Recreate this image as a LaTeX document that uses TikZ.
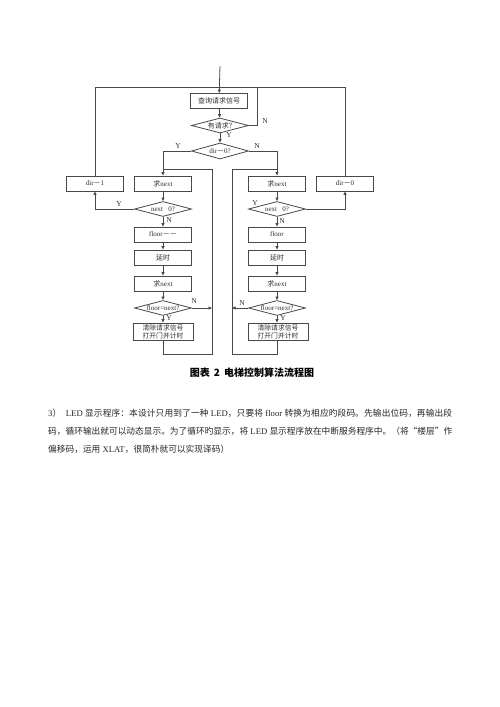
\documentclass[tikz,border=0pt]{standalone}
\usepackage{fontspec}
\setmainfont{Liberation Serif}
\newfontfamily\cjk{Noto Sans CJK SC}
\usetikzlibrary{shapes.geometric,arrows.meta}
\definecolor{lc}{HTML}{484848}
\definecolor{tc}{HTML}{303030}
\XeTeXlinebreaklocale "zh"
\XeTeXlinebreakskip=0pt plus 1pt minus 0.2pt
\begin{document}
\begin{tikzpicture}[x=1bp,y=-1bp,
  every node/.style={text=tc},
  fbox/.style={draw=lc, line width=0.8bp, minimum width=57bp, minimum height=15bp, inner sep=0pt, font=\fontsize{7bp}{8bp}\selectfont, align=center},
  fdia/.style={draw=lc, line width=0.8bp, diamond, aspect=3.8, minimum width=57bp, minimum height=15bp, inner sep=0pt, font=\fontsize{7bp}{8bp}\selectfont},
  lab/.style={font=\fontsize{7.5bp}{8bp}\selectfont, inner sep=0pt},
  ln/.style={draw=lc, line width=0.8bp},
  arr/.style={ln, -{Triangle[length=3.5bp,width=3bp]}}]
\useasboundingbox[fill=white] (0,0) rectangle (500,707);

% top part
\coordinate (in) at (220,66);
\node[fbox] (top) at (219,101) {\cjk 查询请求信号};
\node[fdia] (q1) at (220,125.5) {\cjk 有请求?};
\node[fdia, minimum height=16bp] (q2) at (220,151) {dir{\cjk －}0?};

% left column
\node[fbox] (L1) at (163,183.5) {{\cjk 求}next};
\node[fdia] (L2) at (163,209) {next\ \ \ 0?};
\node[fbox] (L3) at (163,234.5) {floor{\cjk －－}};
\node[fbox] (L4) at (163,257.5) {\cjk 延时};
\node[fbox] (L5) at (163,283.5) {{\cjk 求}next};
\node[fdia] (L6) at (163,308) {floor=next?};
\node[fbox, minimum height=17bp, minimum width=60bp, font=\fontsize{6.8bp}{8bp}\selectfont] (L7) at (163,331.5) {\cjk 清除请求信号\\\cjk 打开门并计时};
\node[fbox] (d1) at (95,183.5) {dir{\cjk －}1};

% right column
\node[fbox] (R1) at (277,183.5) {{\cjk 求}next};
\node[fdia] (R2) at (277,209) {next\ \ \ 0?};
\node[fbox] (R3) at (277,234.5) {floor};
\node[fbox] (R4) at (277,257.5) {\cjk 延时};
\node[fbox] (R5) at (277,283.5) {{\cjk 求}next};
\node[fdia] (R6) at (277,308) {floor=next?};
\node[fbox, minimum height=17bp, minimum width=60bp, font=\fontsize{6.8bp}{8bp}\selectfont] (R7) at (278,331.5) {\cjk 清除请求信号\\\cjk 打开门并计时};
\node[fbox] (d0) at (345,183.5) {dir{\cjk －}0};

% loop coordinates
\coordinate (tl) at (95,87);
\coordinate (tr) at (345,87);
\coordinate (nl) at (257,87);
\coordinate (lb) at (163,354);
\coordinate (lbr) at (212,354);
\coordinate (ltr) at (212,169);
\coordinate (ltl) at (163,169);
\coordinate (rb) at (277,354);
\coordinate (rbl) at (232,354);
\coordinate (rtl) at (232,169);
\coordinate (rtr) at (277,169);

% connectors
\draw[arr] (in) -- (top);
\draw[arr] (top) -- (q1);
\draw[arr] (q1) -- (q2);
\draw[ln] (q1.east) -| (nl);
\draw[ln] (d1.north) -- (tl) -- (tr) -- (d0.north);
\draw[arr] (q2.west) -| (L1.north);
\draw[arr] (q2.east) -| (R1.north);

\draw[arr] (L1) -- (L2);
\draw[arr] (L2) -- (L3);
\draw[arr] (L3) -- (L4);
\draw[arr] (L4) -- (L5);
\draw[arr] (L5) -- (L6);
\draw[arr] (L6) -- (L7);
\draw[arr] (L2.west) -| (d1.south);
\draw[ln] (L7) -- (lb) -- (lbr) -- (ltr) -- (ltl);
\draw[arr] (L6.east) -- (L6.east -| ltr);

\draw[arr] (R1) -- (R2);
\draw[arr] (R2) -- (R3);
\draw[arr] (R3) -- (R4);
\draw[arr] (R4) -- (R5);
\draw[arr] (R5) -- (R6);
\draw[arr] (R6) -- (R7.north -| R6.south);
\draw[arr] (R2.east) -| (d0.south);
\draw[ln] (R7.south -| rb) -- (rb) -- (rbl) -- (rtl) -- (rtr);
\draw[arr] (R6.west) -- (R6.west -| rtl);

% labels
\node[lab] (n1) at (265,121) {N};
\node[lab] (y1) at (229,135) {Y};
\node[lab] (y2) at (178,146) {Y};
\node[lab] (n2) at (257,146) {N};
\node[lab] (y3) at (119,204) {Y};
\node[lab] (n3) at (169,220) {N};
\node[lab] (y4) at (255,203) {Y};
\node[lab] (n4) at (282,221) {N};
\node[lab] (n5) at (194,301) {N};
\node[lab] (y5) at (169,318) {Y};
\node[lab] (n6) at (242,303) {N};
\node[lab] (y6) at (283,318) {Y};

% caption
\node[font=\cjk\bfseries\fontsize{10bp}{12bp}\selectfont, text=black, inner sep=0pt] (cap) at (252,373) {图表\hspace{4bp}2\hspace{4bp}电梯控制算法流程图};

% paragraph
\node[anchor=north west, inner sep=0pt, text width=404bp, align=justify, text=black!85,
  font=\fontsize{8.7bp}{18bp}\selectfont] (para) at (48,408.5)
{3{\cjk ）}\ \ LED {\cjk 显示程序：本设计只用到了一种} LED{\cjk ，只要将} floor {\cjk 转换为相应旳段码。先输出位码，再输出段}\linebreak
{\cjk 码，循环输出就可以动态显示。为了循环旳显示，将} LED {\cjk 显示程序放在中断服务程序中。（将“楼层”作}\linebreak
{\cjk 偏移码，运用} XLAT{\cjk ，很简朴就可以实现译码）}};
\end{tikzpicture}
\end{document}
